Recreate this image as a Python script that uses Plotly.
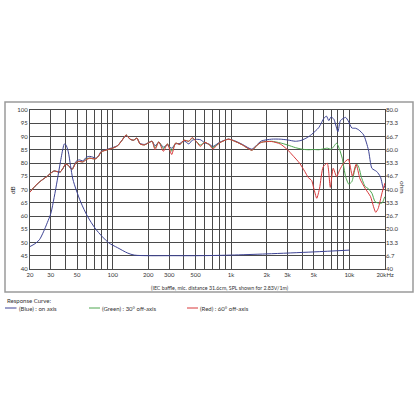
import plotly.graph_objects as go

# ---------------- data ----------------
freq_blue = [20, 21, 22, 24, 26, 28, 30, 32, 34, 36, 38, 40, 42, 44, 45.5, 47, 49, 52, 56, 60, 64, 68, 72, 76, 80, 90,
             100, 110, 120, 130, 140, 150, 160, 170, 185, 200, 215, 228, 245, 268, 290, 315, 340, 370, 400, 440, 470,
             500, 550, 600, 660, 700, 800, 950, 1100, 1250, 1500, 1650, 1800, 2200, 2600, 3000, 3500, 3900, 4400,
             4800, 5500, 6100, 6400, 6700, 7000, 7400, 8000, 8400, 9300, 9800, 10500, 11300, 12000, 13200, 14500,
             15500, 17000, 18300, 19400, 20000]
spl_blue = [69.0, 70.2, 71.2, 72.8, 74.0, 75.0, 76.2, 77.0, 76.8, 76.6, 78.0, 79.6, 79.2, 78.2, 77.8, 79.0, 80.6, 81.2,
            80.8, 82.2, 82.5, 82.2, 81.8, 82.8, 84.4, 85.2, 85.8, 86.6, 88.6, 90.4, 89.0, 88.6, 89.4, 87.4, 87.0, 87.6,
            88.2, 86.5, 87.8, 86.0, 86.8, 85.6, 87.2, 87.4, 88.4, 87.2, 88.6, 88.9, 88.8, 87.6, 87.0, 86.2, 87.8, 89.0,
            88.2, 87.0, 85.2, 86.8, 88.3, 89.0, 89.0, 88.7, 88.2, 88.5, 89.6, 90.8, 93.3, 96.9, 97.7, 96.0, 97.4, 96.5,
            91.8, 96.0, 97.2, 95.8, 93.2, 93.1, 92.5, 90.6, 84.9, 78.0, 76.8, 74.8, 70.4, 71.5]

freq_green = [20, 21, 22, 24, 26, 28, 30, 32, 34, 36, 38, 40, 42, 44, 45.5, 47, 49, 52, 56, 60, 64, 68, 72, 76, 80, 90,
              100, 110, 120, 130, 140, 150, 160, 170, 185, 200, 215, 228, 245, 268, 290, 315, 340, 370, 400, 440, 470,
              500, 550, 600, 660, 700, 800, 950, 1100, 1250, 1500, 1650, 1800, 2200, 2600, 3000, 3500, 4000, 4500,
              5000, 5500, 6000, 6500, 7000, 7400, 7800, 8200, 8700, 9300, 9900, 10500, 11100, 11600, 12100, 12600,
              13600, 14300, 15500, 16500, 18000, 19000, 19600, 20000]
spl_green = [69.0, 70.2, 71.2, 72.8, 74.0, 75.0, 76.2, 77.0, 76.7, 76.6, 78.0, 79.6, 79.2, 78.0, 77.6, 78.6, 80.2, 80.6,
             80.4, 81.5, 81.9, 81.6, 81.6, 82.6, 84.2, 85.0, 85.6, 86.5, 88.6, 90.6, 89.0, 88.6, 89.4, 87.2, 86.8, 87.6,
             88.2, 85.6, 88.0, 85.4, 87.2, 84.5, 87.5, 87.0, 88.6, 88.2, 89.4, 88.5, 86.8, 87.8, 86.8, 85.8, 87.6, 89.0,
             88.0, 86.8, 84.8, 86.6, 87.8, 88.2, 87.6, 86.8, 85.8, 85.2, 85.0, 85.1, 85.0, 85.3, 85.6, 85.2, 86.3, 87.5,
             85.5, 81.8, 74.8, 72.0, 73.0, 77.4, 79.5, 78.0, 74.8, 71.1, 70.5, 68.6, 65.4, 64.8, 65.0, 66.5, 67.3]

freq_red = [20, 21, 22, 24, 26, 28, 30, 32, 34, 36, 38, 40, 42, 44, 45.5, 47, 49, 52, 56, 60, 64, 68, 72, 76, 80, 90,
            100, 110, 120, 130, 140, 150, 160, 170, 185, 200, 215, 228, 245, 268, 290, 315, 340, 370, 400, 440, 470,
            500, 550, 600, 660, 700, 800, 950, 1100, 1250, 1500, 1650, 1800, 2200, 2600, 3000, 3300, 3800, 4200,
            4500, 4800, 5000, 5300, 5600, 6000, 6500, 6900, 7300, 7800, 8300, 8900, 9800, 10600, 11400, 12300, 13600,
            15100, 16000, 16700, 17500, 18900, 20000]
spl_red = [69.0, 70.2, 71.2, 72.8, 74.0, 75.0, 76.2, 77.0, 76.7, 76.6, 78.0, 79.6, 79.2, 78.0, 77.6, 78.6, 80.2, 80.6,
           80.4, 81.3, 81.8, 81.6, 81.6, 82.6, 84.2, 85.0, 85.6, 86.5, 88.6, 90.6, 89.0, 88.6, 89.4, 87.2, 86.8, 87.6,
           88.2, 85.0, 88.0, 84.4, 87.2, 83.2, 87.5, 87.0, 88.6, 88.2, 89.6, 88.5, 86.3, 87.8, 86.8, 85.3, 87.6, 89.0,
           88.0, 86.8, 84.8, 86.6, 87.8, 88.1, 87.2, 85.0, 83.0, 79.9, 76.8, 74.5, 73.4, 70.5, 66.7, 70.5, 78.5, 79.9,
           70.8, 78.0, 74.9, 77.5, 79.8, 81.4, 75.1, 79.5, 74.0, 70.4, 67.3, 63.5, 61.4, 62.8, 68.8, 72.5]

freq_imp = [20, 22, 24, 26, 28, 30, 32, 34, 36, 38, 39, 40, 42, 44, 46, 49, 54, 61, 72, 92, 110, 134, 152, 200, 300,
            500, 700, 1000, 2000, 5000, 10000]
imp_ohm = [11.3, 12.7, 14.7, 18.7, 23.3, 28.0, 36.0, 44.7, 53.3, 60.7, 62.9, 62.7, 59.3, 52.0, 45.3, 40.0, 33.3,
           26.7, 20.0, 13.3, 10.7, 8.0, 7.0, 6.7, 6.7, 6.7, 6.8, 7.0, 7.6, 8.6, 9.5]

grid_freqs = [20, 30, 40, 50, 60, 70, 80, 90, 100, 200, 300, 400, 500, 600, 700, 800, 900, 1000,
              2000, 3000, 4000, 5000, 6000, 7000, 8000, 9000, 10000, 20000]
freq_labels = {20: "20", 30: "30", 50: "50", 100: "100", 200: "200", 300: "300", 500: "500",
               1000: "1k", 2000: "2k", 3000: "3k", 5000: "5k", 10000: "10k", 20000: "20kHz"}
db_ticks = [40, 45, 50, 55, 60, 65, 70, 75, 80, 85, 90, 95, 100]
ohm_ticks = [0, 6.667, 13.333, 20, 26.667, 33.333, 40, 46.667, 53.333, 60, 66.667, 73.333, 80]
ohm_labels = ["40", "6.7", "13.3", "20.0", "26.7", "33.3", "40.0", "46.7", "53.3", "60.0", "66.7", "73.3", "80.0"]

# ---------------- styling ----------------
BLUE = "#3d4394"
GREEN = "#4ea650"
RED = "#d8383a"
GRID = "#4a4a4a"
FONT = "Lato"
TXT = "#333333"

W, H = 416, 416
L, R, T, B = 30, 31, 110, 147
pw, ph = W - L - R, H - T - B


def px(x):
    return (x - L) / pw


def py(y):
    return (H - B - y) / ph


fig = go.Figure()
fig.add_trace(go.Scatter(x=freq_imp, y=imp_ohm, mode="lines", yaxis="y2",
                         line=dict(color=BLUE, width=1, shape="spline", smoothing=0.8),
                         name="Impedance", showlegend=False))
fig.add_trace(go.Scatter(x=freq_blue, y=spl_blue, mode="lines",
                         line=dict(color=BLUE, width=1, shape="spline", smoothing=0.6),
                         name="(Blue) : on axis", showlegend=False))
fig.add_trace(go.Scatter(x=freq_green, y=spl_green, mode="lines",
                         line=dict(color=GREEN, width=1, shape="spline", smoothing=0.6),
                         name="(Green) : 30° off-axis", showlegend=False))
fig.add_trace(go.Scatter(x=freq_red, y=spl_red, mode="lines",
                         line=dict(color=RED, width=1, shape="spline", smoothing=0.6),
                         name="(Red) : 60° off-axis", showlegend=False))

fig.update_layout(
    width=W, height=H,
    margin=dict(l=L, r=R, t=T, b=B),
    paper_bgcolor="white", plot_bgcolor="white",
    font=dict(family=FONT, size=6, color=TXT),
    showlegend=False,
    xaxis=dict(type="log", range=[1.30103, 4.30103],
               tickvals=grid_freqs, ticktext=[freq_labels.get(f, "") for f in grid_freqs],
               showgrid=True, gridcolor=GRID, gridwidth=1.3,
               showline=True, linecolor=GRID, linewidth=1.3, mirror=True,
               ticks="", tickfont=dict(size=6, color=TXT), zeroline=False),
    yaxis=dict(range=[40, 100], tickvals=db_ticks,
               showgrid=True, gridcolor=GRID, gridwidth=1.3,
               showline=True, linecolor=GRID, linewidth=1.3, mirror=True,
               ticks="", tickfont=dict(size=6, color=TXT), zeroline=False),
    yaxis2=dict(range=[0, 80], overlaying="y", side="right",
                tickvals=ohm_ticks, ticktext=ohm_labels, showgrid=False,
                ticks="", tickfont=dict(size=6, color=TXT), zeroline=False),
)

# outer frame
fig.add_shape(type="rect", xref="paper", yref="paper",
              x0=px(5), x1=px(413), y0=py(292), y1=py(102),
              line=dict(color="#9a9a9a", width=1.5), layer="below")

annotations = [
    dict(text="dB", x=px(12), y=py(190), textangle=-90, font=dict(size=6.5)),
    dict(text="ohm", x=px(403), y=py(187), textangle=90, font=dict(size=6.5)),
    dict(text="(IEC baffle, mic. distance 31.6cm, SPL shown for 2.83V/1m)", x=px(220), y=py(288),
         font=dict(size=5.3)),
    dict(text="Response Curve:", x=px(5), y=py(300.5), xanchor="left", font=dict(size=6)),
    dict(text="(Blue) : on axis", x=px(17), y=py(308), xanchor="left", font=dict(size=6)),
    dict(text="(Green) : 30° off-axis", x=px(100), y=py(308), xanchor="left", font=dict(size=6)),
    dict(text="(Red) : 60° off-axis", x=px(198), y=py(308), xanchor="left", font=dict(size=6)),
]
for a in annotations:
    a.setdefault("xanchor", "center")
    fig.add_annotation(xref="paper", yref="paper", showarrow=False, yanchor="middle", **a)

for x0, x1, c in [(5, 16.5, BLUE), (89, 100, GREEN), (187, 198, RED)]:
    fig.add_shape(type="line", xref="paper", yref="paper", x0=px(x0), x1=px(x1),
                  y0=py(308), y1=py(308), line=dict(color=c, width=1))

fig.write_html("out.html")
